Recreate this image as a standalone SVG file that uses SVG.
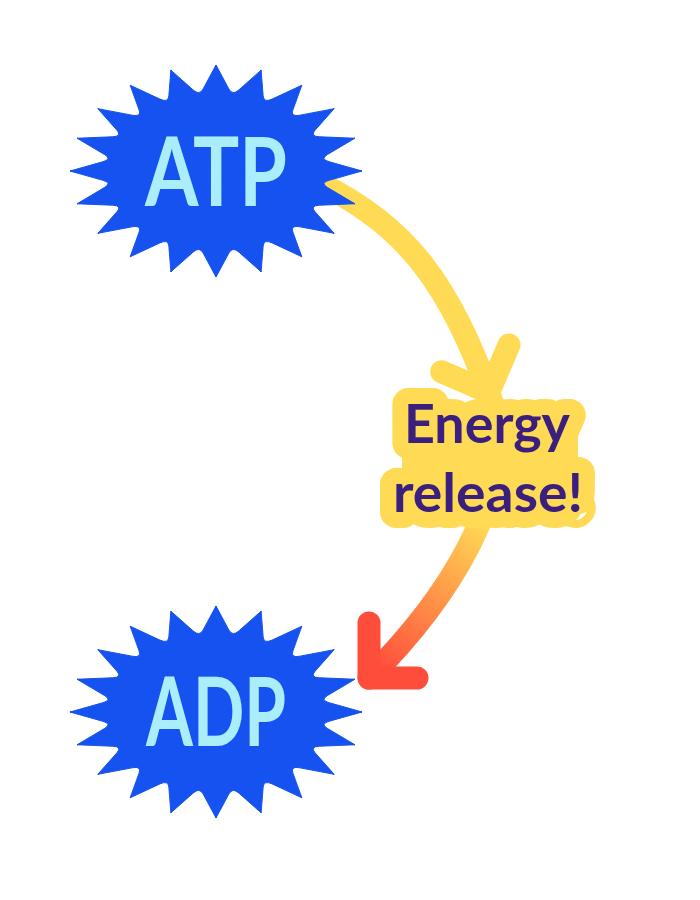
<svg xmlns="http://www.w3.org/2000/svg" xmlns:xlink="http://www.w3.org/1999/xlink" width="700" height="900" viewBox="0 0 700 900">
<style>
.star{fill:#1652F0;stroke:#1652F0;stroke-width:1;vector-effect:non-scaling-stroke}
.node-text{font-family:Lato,"Noto Sans",sans-serif;font-weight:700;font-size:96px;fill:#AAEEFB;text-anchor:middle}
.flow{fill:none;stroke-width:23;stroke-linecap:round;stroke-linejoin:round}
.lbl{font-family:Lato,"Noto Sans",sans-serif;font-weight:700;font-size:54px;text-anchor:middle}
.lbl-bg{fill:#FFDB55;stroke:#FFDB55;stroke-width:32;stroke-linejoin:round}
.lbl-fg{fill:#3B1F7E}
</style>
<defs>
<path id="wedge" class="star" d="M0,0 L0,-100 L8.78,-77.47 Q11.26,-71.11 15.58,-76.39 L30.90,-95.11 Z"/>
<g id="star">
<use href="#wedge"/>
<use href="#wedge" transform="rotate(18)"/>
<use href="#wedge" transform="rotate(36)"/>
<use href="#wedge" transform="rotate(54)"/>
<use href="#wedge" transform="rotate(72)"/>
<use href="#wedge" transform="rotate(90)"/>
<use href="#wedge" transform="rotate(108)"/>
<use href="#wedge" transform="rotate(126)"/>
<use href="#wedge" transform="rotate(144)"/>
<use href="#wedge" transform="rotate(162)"/>
<use href="#wedge" transform="rotate(180)"/>
<use href="#wedge" transform="rotate(198)"/>
<use href="#wedge" transform="rotate(216)"/>
<use href="#wedge" transform="rotate(234)"/>
<use href="#wedge" transform="rotate(252)"/>
<use href="#wedge" transform="rotate(270)"/>
<use href="#wedge" transform="rotate(288)"/>
<use href="#wedge" transform="rotate(306)"/>
<use href="#wedge" transform="rotate(324)"/>
<use href="#wedge" transform="rotate(342)"/>
</g>
<linearGradient id="grad" gradientUnits="userSpaceOnUse" x1="495" y1="530" x2="380" y2="670">
<stop offset="0" stop-color="#FFDB55"/>
<stop offset="1" stop-color="#FF4D3B"/>
</linearGradient>
</defs>
<rect width="700" height="900" fill="#FFFFFF"/>
<g id="connectors">
<path class="flow" stroke="#FFDB55" d="M319,183 C412,228 450,290 488.7,392.1"/>
<path class="flow" stroke="url(#grad)" d="M488.7,392.1 C526,490 439,608 369,678"/>
<path class="flow" stroke="#FFDB55" d="M441.7,371.7 L488.7,392.1 L509,345"/>
<path class="flow" stroke="#FF4D3B" d="M369,623 L369,678 L417,678"/>
</g>
<g id="node-atp">
<use href="#star" transform="translate(216,171) scale(1.46,1.06)"/>
<text class="node-text" x="216" y="206" textLength="142" lengthAdjust="spacingAndGlyphs">ATP</text>
</g>
<g id="node-adp">
<use href="#star" transform="translate(216,712) scale(1.46,1.06)"/>
<text class="node-text" x="216" y="746" textLength="140" lengthAdjust="spacingAndGlyphs">ADP</text>
</g>
<g id="label">
<rect x="402" y="432" width="176" height="62" fill="#FFDB55"/>
<text class="lbl lbl-bg" x="487" y="443" textLength="166" lengthAdjust="spacingAndGlyphs">Energy</text>
<text class="lbl lbl-bg" x="488" y="512" textLength="190" lengthAdjust="spacingAndGlyphs">release!</text>
<text class="lbl lbl-fg" x="487" y="443" textLength="166" lengthAdjust="spacingAndGlyphs">Energy</text>
<text class="lbl lbl-fg" x="488" y="512" textLength="190" lengthAdjust="spacingAndGlyphs">release!</text>
</g>
</svg>
